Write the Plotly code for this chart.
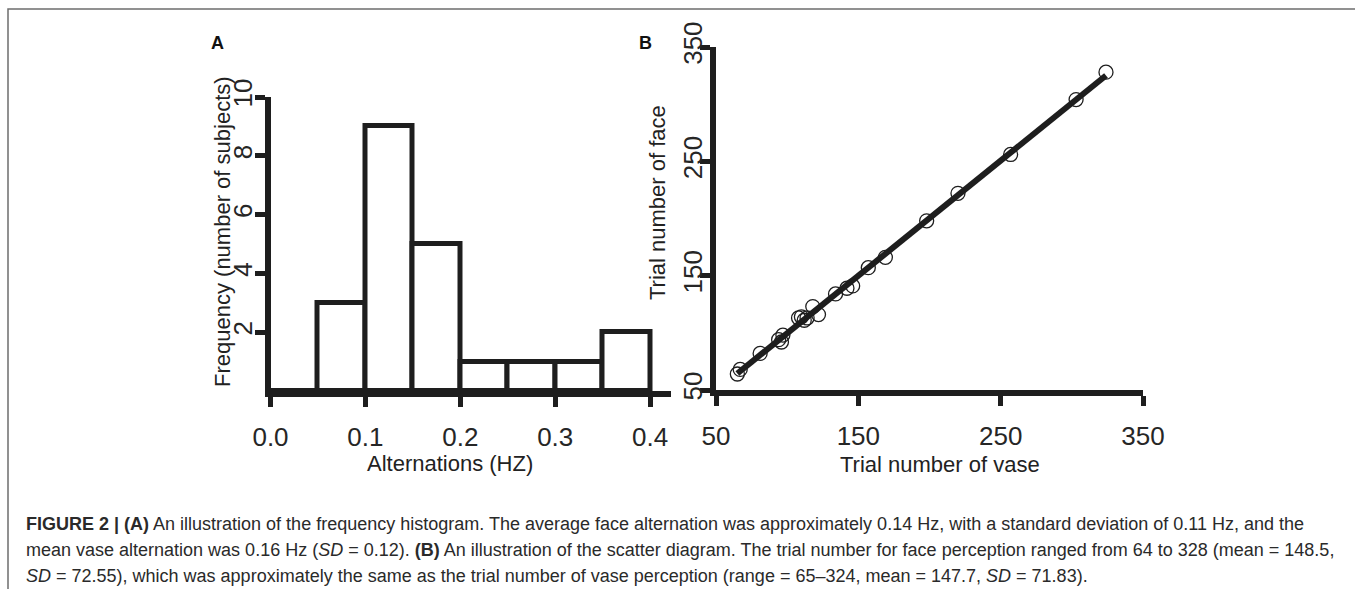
import numpy as np
import plotly.graph_objects as go

# ---------------- data ----------------
hist_bin_left = [0.00, 0.05, 0.10, 0.15, 0.20, 0.25, 0.30, 0.35]
hist_counts = [0, 3, 9, 5, 1, 1, 1, 2]
hist_bin_width = 0.05
hist_xticks = [0.0, 0.1, 0.2, 0.3, 0.4]
hist_yticks = [2, 4, 6, 8, 10]

vase_trials = [65, 67, 81, 94, 97, 96, 108, 110, 112, 114, 118, 122,
               134, 142, 146, 157, 169, 198, 220, 257, 303, 324]
face_trials = [64, 68, 82, 94, 98, 92, 113, 114, 111, 113, 123, 116,
               134, 139, 141, 157, 166, 198, 222, 256, 304, 328]
scatter_ticks = [50, 150, 250, 350]

caption_lines = [
    "<b>FIGURE 2 | (A)</b> An illustration of the frequency histogram. The average face alternation was "
    "approximately 0.14 Hz, with a standard deviation of 0.11 Hz, and the",
    "mean vase alternation was 0.16 Hz (<i>SD</i> = 0.12). <b>(B)</b> An illustration of the scatter diagram. "
    "The trial number for face perception ranged from 64 to 328 (mean = 148.5,",
    "<i>SD</i> = 72.55), which was approximately the same as the trial number of vase perception "
    "(range = 65\u2013324, mean = 147.7, <i>SD</i> = 71.83).",
]

# ---------------- layout helpers ----------------
W, H = 1355, 589
FONT = "Liberation Sans, Arial, Helvetica, sans-serif"
INK = "#1e1e1e"


def px(x):
    return x / W


def py(y):
    return 1 - y / H


fig = go.Figure()

# Panel A: histogram
fig.add_trace(go.Bar(
    x=hist_bin_left, y=hist_counts, width=hist_bin_width, offset=0,
    marker=dict(color="white", line=dict(color=INK, width=5)),
    xaxis="x", yaxis="y", showlegend=False, hoverinfo="x+y",
))

# Panel B: regression line + scatter
vx = np.array(vase_trials, dtype=float)
fy = np.array(face_trials, dtype=float)
slope, intercept = np.polyfit(vx, fy, 1)
line_x = [vx.min(), vx.max()]
line_y = [intercept + slope * v for v in line_x]
fig.add_trace(go.Scatter(
    x=line_x, y=line_y, mode="lines",
    line=dict(color=INK, width=6),
    xaxis="x2", yaxis="y2", showlegend=False, cliponaxis=False,
))
fig.add_trace(go.Scatter(
    x=vase_trials, y=face_trials, mode="markers",
    marker=dict(symbol="circle-open", size=14, color=INK, line=dict(width=1.3, color=INK)),
    xaxis="x2", yaxis="y2", showlegend=False, cliponaxis=False,
))

axis_common = dict(
    showgrid=False, zeroline=False, showline=True, linecolor=INK, linewidth=6,
    ticks="outside", ticklen=10, tickwidth=5, tickcolor=INK,
    tickfont=dict(family=FONT, size=26, color="#262626"),
    fixedrange=True, automargin=False,
)

fig.update_layout(
    width=W, height=H,
    margin=dict(l=0, r=0, t=0, b=0, pad=0, autoexpand=False),
    paper_bgcolor="white", plot_bgcolor="white",
    font=dict(family=FONT, color="#222"),
    bargap=0,
    xaxis=dict(axis_common, domain=[px(270.5), px(671)], range=[0, 0.422],
               tickvals=hist_xticks, tickformat=".1f", anchor="y",
               ticklabelstandoff=8),
    yaxis=dict(axis_common, domain=[py(391), py(97)], range=[0, 10],
               tickvals=hist_yticks, tickangle=-90, anchor="x",
               ticklabelstandoff=-8),
    xaxis2=dict(axis_common, domain=[px(716), px(1143)], range=[50, 350],
                tickvals=scatter_ticks, anchor="y2", ticklabelstandoff=8),
    yaxis2=dict(axis_common, domain=[py(390), py(47)], range=[50, 350],
                tickvals=scatter_ticks, tickangle=-90, anchor="x2",
                ticklabelstandoff=-12),
)

ann = []
ann.append(dict(text="<b>A</b>", x=px(217), y=py(43), font=dict(size=18, color="#111")))
ann.append(dict(text="<b>B</b>", x=px(645), y=py(43), font=dict(size=18, color="#111")))
ann.append(dict(text="Frequency (number of subjects)", x=px(223), y=py(232), textangle=-90,
                font=dict(size=22)))
ann.append(dict(text="Alternations (HZ)", x=px(450), y=py(463), font=dict(size=22)))
ann.append(dict(text="Trial number of face", x=px(657), y=py(203), textangle=-90,
                font=dict(size=22)))
ann.append(dict(text="Trial number of vase", x=px(940), y=py(464), font=dict(size=22)))
for i, line in enumerate(caption_lines):
    ann.append(dict(text=line, x=px(24), y=py(524 + 26 * i), xanchor="left",
                    font=dict(size=18, color="#2a2a2a")))

for a in ann:
    a.setdefault("xanchor", "center")
    a.update(xref="paper", yref="paper", yanchor="middle", showarrow=False)
    a["font"].setdefault("family", FONT)
    a["font"].setdefault("color", "#222")
fig.update_layout(annotations=ann)

# outer figure frame
fig.add_shape(type="rect", xref="paper", yref="paper",
              x0=px(8), y0=py(620), x1=px(1380), y1=py(9),
              line=dict(color="#6e6e6e", width=1.5), layer="below")

fig.write_html(
    "out.html",
    config={"displayModeBar": False},
    post_script="document.body.style.margin='0';document.body.style.padding='0';"
                "document.body.style.overflow='hidden';",
)
